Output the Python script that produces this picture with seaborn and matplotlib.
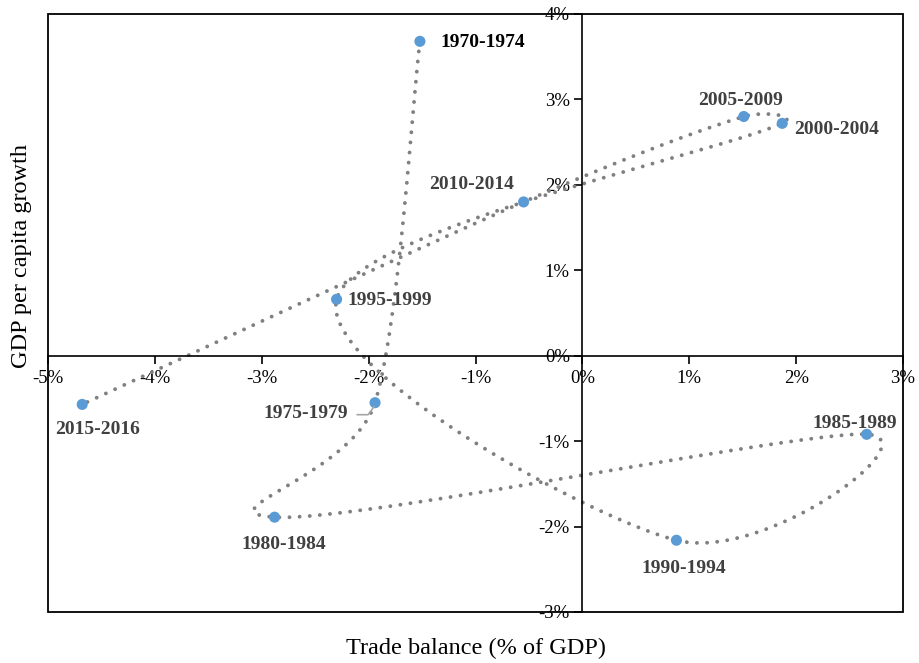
import numpy as np
import pandas as pd
import matplotlib
matplotlib.use("Agg")
import matplotlib.pyplot as plt
import matplotlib.transforms as mtransforms
from matplotlib.lines import Line2D
from matplotlib.patches import Rectangle
from matplotlib.ticker import FuncFormatter
import seaborn as sns

# Five-year averages, in chronological order
periods = ["1970-1974", "1975-1979", "1980-1984", "1985-1989", "1990-1994",
           "1995-1999", "2000-2004", "2005-2009", "2010-2014", "2015-2016"]
trade_balance = [-1.52, -1.94, -2.88, 2.66, 0.88, -2.30, 1.87, 1.51, -0.55, -4.68]
gdp_growth = [3.68, -0.55, -1.89, -0.92, -2.16, 0.66, 2.72, 2.80, 1.80, -0.57]

x_ticks = [-5, -4, -3, -2, -1, 0, 1, 2, 3]
y_ticks = [-3, -2, -1, 0, 1, 2, 3, 4]

# label placement (pixel offsets from each point) and alignment
label_offsets = {
    "1970-1974": (21, -1, "left"),
    "1975-1979": (-27, -11, "right"),
    "1980-1984": (9, -27, "center"),
    "1985-1989": (-12, 11, "center"),
    "1990-1994": (7, -28, "center"),
    "1995-1999": (11, -1, "left"),
    "2000-2004": (12, -6, "left"),
    "2005-2009": (-3, 16, "center"),
    "2010-2014": (-52, 17, "center"),
    "2015-2016": (15, -25, "center"),
}

df = pd.DataFrame({"period": periods, "trade": trade_balance, "growth": gdp_growth})


def smooth_path(pts, n=60, cap_frac=0.5):
    """Smoothed line through consecutive points: Catmull-Rom Bezier segments
    whose handles are capped at a fraction of the segment length."""
    pts = np.asarray(pts, dtype=float)
    m = len(pts)
    tang = np.zeros_like(pts)
    for i in range(m):
        a = pts[max(i - 1, 0)]
        b = pts[min(i + 1, m - 1)]
        tang[i] = (b - a) / 2.0
    out = []
    t = np.linspace(0, 1, n)[:, None]

    def handle(vec, seg_len):
        length = np.hypot(*vec) / 3.0
        cap = seg_len * cap_frac
        return vec / 3.0 * (min(length, cap) / length if length > 0 else 0.0)

    for i in range(m - 1):
        p0, p3 = pts[i], pts[i + 1]
        seg_len = np.hypot(*(p3 - p0))
        p1 = p0 + handle(tang[i], seg_len)
        p2 = p3 - handle(tang[i + 1], seg_len)
        seg = ((1 - t) ** 3) * p0 + 3 * ((1 - t) ** 2) * t * p1 \
            + 3 * (1 - t) * t ** 2 * p2 + t ** 3 * p3
        out.append(seg if i == 0 else seg[1:])
    return np.vstack(out)


sns.set_theme(style="white")
plt.rcParams["font.family"] = ["Liberation Serif", "DejaVu Serif"]

fig = plt.figure(figsize=(9.19, 6.63), dpi=100)
ax = fig.add_axes([48 / 919, 1 - 612 / 663, 855 / 919, 598 / 663])
ax.set_xlim(-5, 3)
ax.set_ylim(-3, 4)

# smooth in screen space so both axes weigh the same, then map back to data
disp = ax.transData.transform(np.column_stack([trade_balance, gdp_growth]))
curve_xy = ax.transData.inverted().transform(smooth_path(disp))
curve = pd.DataFrame({"x": curve_xy[:, 0], "y": curve_xy[:, 1]})

sns.lineplot(data=curve, x="x", y="y", sort=False, estimator=None, ax=ax,
             color="#808080", linewidth=2.8, linestyle=(0, (0.01, 2.6)),
             dash_capstyle="round", zorder=2)
sns.scatterplot(data=df, x="trade", y="growth", ax=ax, s=64, color="#5B9BD5",
                edgecolor="none", linewidth=0, zorder=3)

ax.set_xlim(-5, 3)
ax.set_ylim(-3, 4)

# axes cross at the origin, with an outer frame round the plot area
for side in ["top", "right"]:
    ax.spines[side].set_visible(False)
ax.spines["bottom"].set_position(("data", 0))
ax.spines["left"].set_position(("data", 0))
for side in ["bottom", "left"]:
    ax.spines[side].set_color("black")
    ax.spines[side].set_linewidth(1.2)
ax.add_patch(Rectangle((0, 0), 1, 1, transform=ax.transAxes, fill=False,
                       edgecolor="black", linewidth=1.3, clip_on=False, zorder=1))

ax.set_xticks(x_ticks)
ax.set_yticks(y_ticks)
pct = FuncFormatter(lambda v, _: f"{v:.0f}%")
ax.xaxis.set_major_formatter(pct)
ax.yaxis.set_major_formatter(pct)
ax.tick_params(axis="both", which="major", direction="out", length=6, width=1.2,
               color="black", labelsize=13.5, labelcolor="black")
ax.tick_params(axis="x", bottom=True, pad=4)
ax.tick_params(axis="y", left=True, pad=3)
for lab in ax.get_xticklabels() + ax.get_yticklabels():
    lab.set_clip_on(False)

ax.set_xlabel("Trade balance (% of GDP)", fontsize=17.5, color="black")
ax.set_ylabel("GDP per capita growth", fontsize=17.5, color="black")
ax.xaxis.set_label_coords(0.5, (612 - 648) / 598)
ax.xaxis.label.set_va("center")
ax.yaxis.set_label_coords((22 - 48) / 855, (612 - 256) / 598)
ax.yaxis.label.set_va("center")

for _, row in df.iterrows():
    dx, dy, ha = label_offsets[row["period"]]
    color = "black" if row["period"] == "1970-1974" else "#404040"
    ax.annotate(row["period"], xy=(row["trade"], row["growth"]), xytext=(dx, dy),
                textcoords="offset pixels", ha=ha, va="center", fontsize=14,
                fontweight="bold", color=color, zorder=4)

# leader line for the 1975-1979 label
i75 = periods.index("1975-1979")
lead_tr = mtransforms.ScaledTranslation(trade_balance[i75], gdp_growth[i75], ax.transData)
ax.add_line(Line2D([-18, -7, -1], [-12, -12, -4], transform=lead_tr,
                   color="#a6a6a6", linewidth=1.2, zorder=4))

ax.grid(False)
fig.savefig("out.png", dpi=100)
